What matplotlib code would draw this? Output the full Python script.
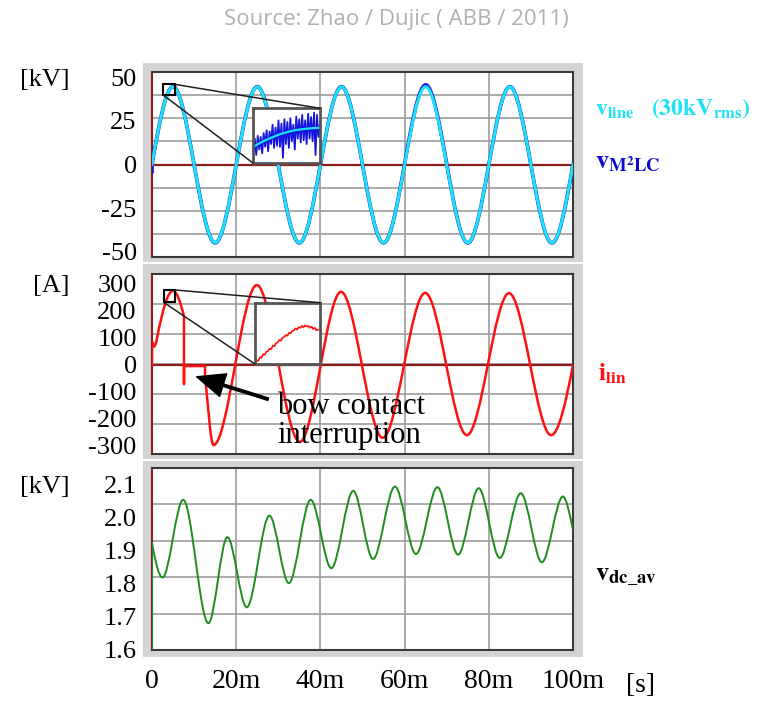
import matplotlib
matplotlib.use("Agg")
import matplotlib.pyplot as plt
import numpy as np
from matplotlib.path import Path
from matplotlib.patches import PathPatch, Rectangle, ConnectionPatch

# ---- values (time in ms) ----
# each trace: key points (ends, jumps, extrema) and the slope there [unit/ms]
vline_t = [0, 5, 15, 25, 35, 45, 55, 65, 75, 85, 95, 100]
vline_v = [0, 44.5, -44.8, 44.5, -44.8, 44.5, -44.8, 44.6, -44.8, 44.5, -44.8, 0]
vline_s = [14, 0, 0, 0, 0, 0, 0, 0, 0, 0, 0, 14]

vm2lc_t = [0, 0, 5, 15, 25, 35, 45, 55, 65, 75, 85, 95, 100]
vm2lc_v = [-4.5, 0, 44.6, -44.9, 44.6, -44.9, 44.6, -44.9, 45.6, -44.9, 44.6, -44.9, 0]
vm2lc_s = [0, 14, 0, 0, 0, 0, 0, 0, 0, 0, 0, 0, 14]

ilin_t = [0, 0, 0.5, 1.2, 5.0, 7.6, 7.6, 7.6, 12.6, 12.6, 14.6, 24.9, 35.1,
          44.9, 54.8, 64.9, 74.8, 84.8, 94.8, 100]
ilin_v = [0, 85, 68, 100, 275, 180, -71, -4, -4, -40, -297, 296, -285,
          271, -270, 267, -260, 266, -260, 0]
ilin_s = [0, 0, 0, 80, 0, -63, 0, 0, 0, -150, 0, 0, 0,
          0, 0, 0, 0, 0, 0, 82]

vdc_t = [0, 0, 2.5, 7.4, 13.4, 17.9, 22.5, 27.9, 32.5, 37.7, 42.6, 47.8,
         52.5, 57.7, 62.7, 67.8, 72.7, 77.6, 82.6, 87.6, 92.6, 97.6, 100]
vdc_v = [0, 1.923, 1.819, 2.054, 1.681, 1.941, 1.729, 2.006, 1.802, 2.054,
         1.847, 2.081, 1.875, 2.094, 1.890, 2.092, 1.888, 2.089, 1.878,
         2.074, 1.865, 2.064, 1.963]
vdc_s = [0, -0.07, 0, 0, 0, 0, 0, 0, 0, 0, 0, 0,
         0, 0, 0, 0, 0, 0, 0, 0, 0, 0, -0.06]

# zoomed insets (normalised inset units)
zoom_vline = [0.30, 0.37, 0.43, 0.48, 0.53, 0.565, 0.595, 0.615, 0.63, 0.64, 0.645]
zoom_vm2lc = [0.20, 0.45, 0.15, 0.50, 0.25, 0.48, 0.18, 0.55, 0.30, 0.60, 0.22, 0.58,
              0.35, 0.70, 0.28, 0.65, 0.32, 0.78, 0.30, 0.72, 0.10, 0.80, 0.35, 0.75,
              0.28, 0.82, 0.40, 0.70, 0.25, 0.85, 0.45, 0.80, 0.38, 0.88, 0.42, 0.78,
              0.35, 0.90, 0.45, 0.84, 0.40, 0.92, 0.15, 0.88, 0.48, 0.70]
zoom_ilin = [0.01, 0.06, 0.05, 0.11, 0.10, 0.16, 0.15, 0.20, 0.21, 0.25, 0.24, 0.30,
             0.29, 0.34, 0.35, 0.39, 0.38, 0.43, 0.44, 0.47, 0.46, 0.51, 0.50, 0.54,
             0.55, 0.58, 0.56, 0.60, 0.59, 0.62, 0.60, 0.63, 0.61, 0.62, 0.59, 0.61,
             0.57, 0.59, 0.55, 0.56]

time_ticks = [0, 20, 40, 60, 80, 100]
time_labels = ["0", "20m", "40m", "60m", "80m", "100m"]
kv_ticks = [-50, -25, 0, 25, 50]
a_ticks = [-300, -200, -100, 0, 100, 200, 300]
dc_ticks = [1.6, 1.7, 1.8, 1.9, 2.0, 2.1]
dc_labels = ["1.6", "1.7", "1.8", "1.9", "2.0", "2.1"]

# ---- layout (pixels of the 761x705 picture) ----
W, H = 761, 705
X0, X1 = 152, 573
PANEL_Y = [(72, 257), (274, 454), (468, 650)]
FRAME_X = (143, 583)
FRAME_Y = [(63, 262), (264, 459), (461, 657)]

GRID = "#9c9c9c"
SPINE = "#3a3a3a"
BROWN = "#8e1c1c"
FRAME = "#d4d4d4"
CYAN = "#1ee2f2"
BLUE = "#1414e0"
RED = "#ff1010"
GREEN = "#1e8c1e"

plt.rcParams["font.family"] = ["Liberation Serif", "DejaVu Serif"]
plt.rcParams["mathtext.fontset"] = "stix"


def hermite_path(t, v, s):
    # cubic bezier segments through the key points with the given slopes
    verts = [(t[0], v[0])]
    codes = [Path.MOVETO]
    for i in range(len(t) - 1):
        d = (t[i + 1] - t[i]) / 3
        verts += [(t[i] + d, v[i] + s[i] * d),
                  (t[i + 1] - d, v[i + 1] - s[i + 1] * d),
                  (t[i + 1], v[i + 1])]
        codes += [Path.CURVE4] * 3
    return Path(verts, codes)


def trace(ax, t, v, s, color, lw, z=3):
    ax.add_patch(PathPatch(hermite_path(t, v, s), fill=False, edgecolor=color,
                           lw=lw, joinstyle="round", capstyle="round", zorder=z))


def style(ax, ylim, ticks, labels, n_div, unit):
    ax.set_xlim(0, 100)
    ax.set_ylim(*ylim)
    ax.set_xticks(time_ticks, time_labels)
    ax.set_yticks(ticks, labels)
    ax.set_yticks(np.linspace(ylim[0], ylim[1], n_div + 1), minor=True)
    ax.grid(True, axis="x", which="major", color=GRID, lw=1.2)
    ax.grid(True, axis="y", which="minor", color=GRID, lw=1.2)
    ax.set_axisbelow(True)
    ax.tick_params(which="both", length=0)
    ax.tick_params(axis="y", labelsize=19, pad=11)
    ax.tick_params(axis="x", labelbottom=False, labelsize=20, pad=14)
    for side in ["top", "right", "bottom"]:
        ax.spines[side].set_color(SPINE)
        ax.spines[side].set_linewidth(1.5)
    ax.spines["left"].set_color(BROWN)
    ax.spines["left"].set_linewidth(1.5)
    ax.text(-0.195, ticks[-1], unit, transform=ax.get_yaxis_transform(),
            ha="right", va="center_baseline", fontsize=19)


def zoom_box(ax, ins, box):
    t0, v0, dt, dv = box
    ax.add_patch(Rectangle((t0, v0), dt, dv, fill=False, edgecolor="black",
                           lw=1.5, zorder=6))
    for xy_a, xy_b in [((t0 + dt, v0 + dv), (1, 1)), ((t0, v0), (0, 0))]:
        ax.add_artist(ConnectionPatch(xyA=xy_a, coordsA=ax.transData, xyB=xy_b,
                                      coordsB=ins.transAxes, color="#202020",
                                      lw=1.1, zorder=6))
    ins.set_xlim(0, 1)
    ins.set_ylim(0, 1)
    ins.set_xticks([])
    ins.set_yticks([])
    ins.set_facecolor("white")
    for sp in ins.spines.values():
        sp.set_color("#555555")
        sp.set_linewidth(2)


fig = plt.figure(figsize=(W / 100, H / 100), dpi=100)

for fy0, fy1 in FRAME_Y:
    fig.add_artist(Rectangle((FRAME_X[0] / W, 1 - fy1 / H),
                             (FRAME_X[1] - FRAME_X[0]) / W, (fy1 - fy0) / H,
                             transform=fig.transFigure, facecolor=FRAME,
                             edgecolor="none", zorder=-5))

axes = [fig.add_axes([X0 / W, 1 - y1 / H, (X1 - X0) / W, (y1 - y0) / H])
        for y0, y1 in PANEL_Y]
ax_v, ax_i, ax_dc = axes

# --- line voltage panel ---
style(ax_v, (-53, 53), kv_ticks, [str(k) for k in kv_ticks], 8, "[kV]")
ax_v.axhline(0, color=BROWN, lw=1.6, zorder=2.5)
trace(ax_v, vm2lc_t, vm2lc_v, vm2lc_s, BLUE, 2.6)
trace(ax_v, vline_t, vline_v, vline_s, CYAN, 2.2, z=3.5)
ins_v = ax_v.inset_axes([0.2406, 0.5065, 0.1584, 0.2973])
ins_v.plot(np.linspace(0, 1, len(zoom_vm2lc)), zoom_vm2lc, color=BLUE, lw=1.3)
ins_v.plot(np.linspace(0, 1, len(zoom_vline)), zoom_vline, color=CYAN, lw=1.6)
zoom_box(ax_v, ins_v, (2.68, 39.8, 2.78, 6.1))

# --- line current panel ---
style(ax_i, (-330, 337), a_ticks, [str(k) for k in a_ticks], 6, "[A]")
ax_i.axhline(0, color=BROWN, lw=1.6, zorder=2.5)
trace(ax_i, ilin_t, ilin_v, ilin_s, RED, 1.8)
ins_i = ax_i.inset_axes([0.2447, 0.5, 0.1544, 0.3406])
ins_i.plot(np.linspace(0, 0.97, len(zoom_ilin)), zoom_ilin, color=RED, lw=1.2)
zoom_box(ax_i, ins_i, (2.77, 232, 2.62, 46))
ax_i.annotate("", xy=(10.6, -44), xytext=(27.6, -127),
              arrowprops=dict(facecolor="black", edgecolor="black", width=1.8,
                              headwidth=17, headlength=20, shrink=0), zorder=7)
# baseline given for the last line of the note
ax_i.text(29.7, -289, "bow contact\ninterruption", fontsize=22, ha="left",
          va="baseline", linespacing=1.0, clip_on=True, zorder=7)

# --- dc voltage panel ---
style(ax_dc, (1.6, 2.15), dc_ticks, dc_labels, 5, "[kV]")
ax_dc.tick_params(axis="x", labelbottom=True)
trace(ax_dc, vdc_t, vdc_v, vdc_s, GREEN, 1.4)

# --- labels ---
fig.text(396.7 / W, 1 - 20 / H, "Source: Zhao / Dujic ( ABB / 2011)",
         ha="center", va="center", color="#b0b0b0", fontsize=16,
         family="Open Sans")
fig.text(641 / W, 1 - 685 / H, "[s]", ha="center", va="center", fontsize=20)
fig.text(595 / W, 1 - 115 / H,
         r"$\mathbf{v}_{\mathbf{line}}\ \ \ \mathbf{(30kV}_{\mathbf{rms}}\mathbf{)}$",
         color=CYAN, fontsize=17, va="baseline")
fig.text(595 / W, 1 - 168 / H, r"$\mathbf{v}_{\mathbf{M}^{\mathbf{2}}\mathbf{LC}}$",
         color="#0a0ad0", fontsize=19, va="baseline")
fig.text(598 / W, 1 - 381 / H, r"$\mathbf{i}_{\mathbf{lin}}$",
         color=RED, fontsize=18, va="baseline")
fig.text(595 / W, 1 - 580 / H, r"$\mathbf{v}_{\mathbf{dc\_av}}$",
         color="black", fontsize=19, va="baseline")

fig.savefig("out.png", dpi=100)
